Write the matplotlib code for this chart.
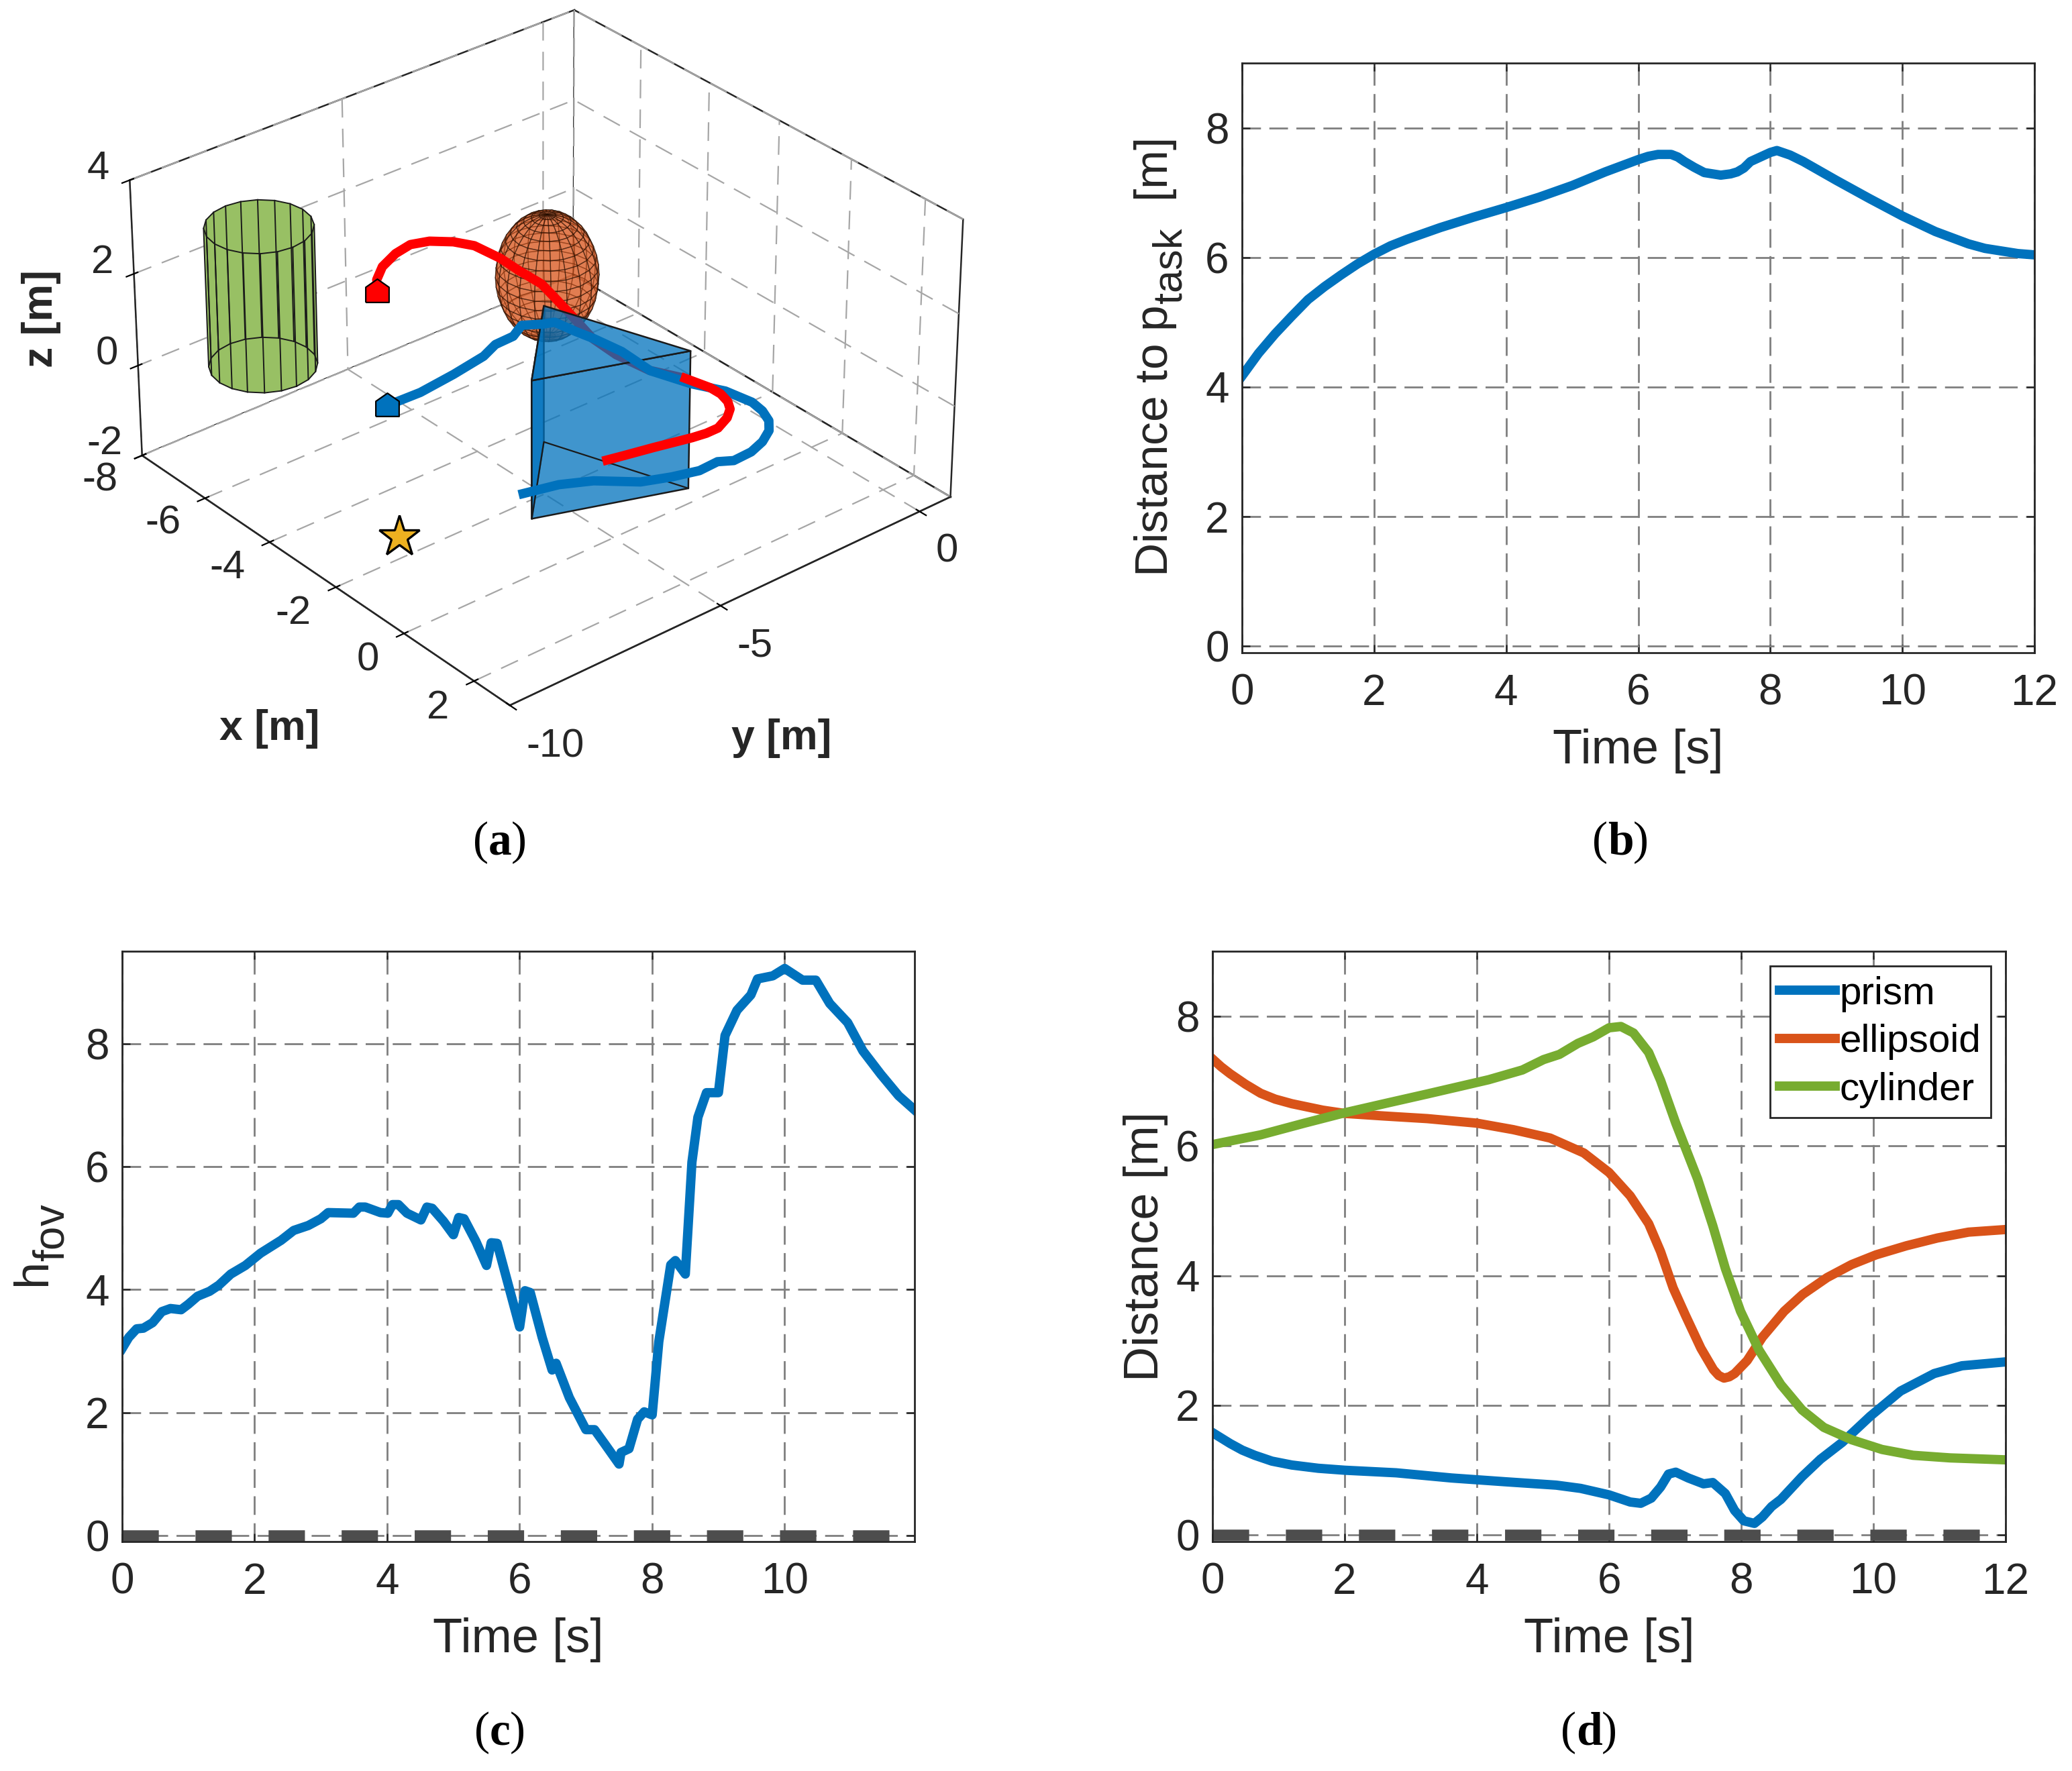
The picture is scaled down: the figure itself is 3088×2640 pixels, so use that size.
import matplotlib
matplotlib.use("Agg")
import matplotlib.pyplot as plt
import matplotlib._mathtext as mathtext_core
import numpy as np
from mpl_toolkits.mplot3d.art3d import Poly3DCollection

plt.rcParams["font.family"] = ["Liberation Sans", "DejaVu Sans"]
plt.rcParams["mathtext.fontset"] = "custom"
plt.rcParams["mathtext.rm"] = "Liberation Sans"
plt.rcParams["axes.unicode_minus"] = False
plt.rcParams["lines.scale_dashes"] = False
# subscripts in the figure are larger and sit lower than the mathtext default
mathtext_core.SHRINK_FACTOR = 0.88
mathtext_core.FontConstantsBase.sub1 = 0.6

W, H = 3088, 2640
DARK = "#262626"
BLUE = "#0072BD"
ORANGE = "#D95319"
GREEN = "#77AC30"
GOLD = "#EDB120"
LW = 5

# (b) distance to task point
t_task = [0, 0.25, 0.5, 0.75, 1, 1.25, 1.5, 1.75, 2, 2.25, 2.5, 3, 3.5, 4, 4.5, 5, 5.5, 6, 6.15, 6.3, 6.5, 6.6, 6.7, 6.85,
          7, 7.25, 7.4, 7.5, 7.6, 7.7, 7.85, 8, 8.1, 8.3, 8.5, 9, 9.5, 10, 10.5, 11, 11.25, 11.5, 11.75, 12]
d_task = [4.17, 4.52, 4.82, 5.09, 5.35, 5.55, 5.73, 5.9, 6.05, 6.18, 6.28, 6.46, 6.62, 6.77, 6.93, 7.11, 7.32, 7.51,
          7.56, 7.59, 7.59, 7.55, 7.48, 7.39, 7.31, 7.27, 7.29, 7.32, 7.38, 7.48, 7.55, 7.62, 7.65, 7.58, 7.48, 7.19,
          6.91, 6.64, 6.40, 6.21, 6.14, 6.10, 6.06, 6.04]

# (c) h_fov
t_fov = [0, 0.1, 0.22, 0.32, 0.46, 0.6, 0.73, 0.89, 1.0, 1.14, 1.32, 1.46, 1.64, 1.86, 2.09, 2.4, 2.59, 2.81, 3.0,
         3.11, 3.49, 3.58, 3.67, 3.9, 4.01, 4.08, 4.17, 4.3, 4.51, 4.6, 4.68, 4.85, 5.0, 5.08, 5.16, 5.34, 5.5,
         5.57, 5.66, 5.8, 6.0, 6.08, 6.16, 6.34, 6.49, 6.55, 6.75, 7.0, 7.13, 7.29, 7.5, 7.53, 7.65, 7.78, 7.88,
         8.0, 8.1, 8.28, 8.35, 8.5, 8.6, 8.69, 8.82, 9.0, 9.1, 9.28, 9.49, 9.59, 9.82, 10.0, 10.27, 10.47, 10.68,
         10.95, 11.18, 11.45, 11.72, 11.96]
h_fov = [3.04, 3.22, 3.36, 3.37, 3.46, 3.64, 3.69, 3.67, 3.76, 3.89, 3.97, 4.07, 4.25, 4.39, 4.59, 4.80, 4.96, 5.04,
         5.15, 5.25, 5.24, 5.34, 5.34, 5.25, 5.24, 5.38, 5.38, 5.24, 5.13, 5.34, 5.32, 5.11, 4.89, 5.17, 5.15, 4.78,
         4.39, 4.76, 4.75, 4.19, 3.39, 3.98, 3.95, 3.22, 2.69, 2.80, 2.24, 1.72, 1.72, 1.48, 1.16, 1.35, 1.41, 1.89,
         2.01, 1.96, 3.15, 4.40, 4.47, 4.25, 6.07, 6.80, 7.20, 7.20, 8.13, 8.54, 8.79, 9.05, 9.10, 9.22, 9.03, 9.03,
         8.65, 8.34, 7.88, 7.50, 7.15, 6.92]

# (d) obstacle distances
t_prism = [0, 0.27, 0.45, 0.64, 0.9, 1.2, 1.6, 2, 2.78, 3.62, 4.46, 5.2, 5.57, 6, 6.32, 6.48, 6.64, 6.78, 6.9, 7.01,
           7.2, 7.43, 7.57, 7.76, 7.9, 8.04, 8.2, 8.32, 8.46, 8.6, 8.92, 9.2, 9.53, 9.95, 10.41, 10.92, 11.34, 12]
d_prism = [1.58, 1.41, 1.31, 1.23, 1.14, 1.08, 1.03, 1.0, 0.96, 0.88, 0.82, 0.77, 0.72, 0.62, 0.51, 0.49, 0.57, 0.74,
           0.94, 0.97, 0.88, 0.79, 0.81, 0.64, 0.38, 0.22, 0.18, 0.28, 0.44, 0.55, 0.9, 1.17, 1.43, 1.83, 2.22, 2.49,
           2.61, 2.67]
t_ell = [0, 0.13, 0.27, 0.5, 0.73, 0.95, 1.2, 1.67, 2, 2.6, 3.25, 4, 4.55, 5.11, 5.62, 6, 6.32, 6.6, 6.78, 6.97, 7.16,
         7.39, 7.58, 7.66, 7.74, 7.82, 7.9, 8.09, 8.32, 8.65, 8.93, 9.3, 9.67, 10.04, 10.5, 10.97, 11.44, 12]
d_ell = [7.34, 7.22, 7.11, 6.95, 6.81, 6.72, 6.65, 6.55, 6.5, 6.46, 6.42, 6.35, 6.25, 6.12, 5.89, 5.59, 5.23, 4.8, 4.37,
         3.81, 3.38, 2.88, 2.55, 2.46, 2.42, 2.44, 2.49, 2.69, 3.05, 3.45, 3.71, 3.97, 4.17, 4.32, 4.46, 4.58, 4.67,
         4.71]
t_cyl = [0, 0.73, 1.39, 2, 2.6, 3.25, 3.8, 4.18, 4.69, 5.01, 5.25, 5.53, 5.76, 6, 6.18, 6.37, 6.6, 6.78, 7.01, 7.34,
         7.57, 7.76, 7.99, 8.27, 8.6, 8.92, 9.25, 9.67, 10.13, 10.6, 11.16, 12]
d_cyl = [6.02, 6.17, 6.35, 6.51, 6.65, 6.8, 6.93, 7.02, 7.17, 7.33, 7.41, 7.58, 7.68, 7.82, 7.84, 7.74, 7.44, 7.01,
         6.35, 5.49, 4.77, 4.11, 3.45, 2.85, 2.32, 1.93, 1.66, 1.47, 1.32, 1.23, 1.19, 1.16]
t_safe = [0, 12]
d_safe = [0, 0]

# (a) trajectories, drawn on z = 2 (red) and z = 1 (blue)
red_x = [-4.90, -5.22, -5.45, -5.54, -5.41, -5.10, -4.73, -4.04, -3.46, -2.80, -2.25, -1.53, -0.67, 0.06, 0.87, 1.50]
red_y = [-6.66, -6.27, -5.77, -5.34, -4.98, -4.65, -4.44, -4.37, -4.40, -4.40, -4.54, -4.73, -4.97, -5.02, -4.92, -4.61]
red2_x = [1.50, 2.04, 2.32, 2.60, 2.82, 3.01, 3.17, 3.17, 3.12, 2.93, 2.80, 2.72]
red2_y = [-4.61, -4.48, -4.48, -4.56, -4.70, -4.94, -5.30, -5.58, -5.87, -6.62, -7.19, -7.52]
blue_x = [-2.52, -2.50, -2.61, -2.76, -2.95, -2.97, -3.18, -2.96, -2.87, -2.35, -1.93, -1.24, -0.37, 0.47, 1.07, 1.35,
          1.68, 2.03, 2.36, 2.62, 2.83, 2.96, 2.98, 2.82, 2.84, 2.68, 2.45, 1.88, 1.58, 1.40]
blue_y = [-8.12, -7.56, -6.68, -5.84, -5.40, -4.95, -4.57, -4.24, -4.02, -3.94, -3.85, -3.76, -3.81, -3.54, -3.23,
          -3.18, -3.12, -3.18, -3.32, -3.55, -3.90, -4.29, -4.73, -4.98, -5.43, -5.95, -6.49, -7.11, -7.67, -8.35]
red_z, blue_z = 2, 1
red_start = (-4.58, -6.91, 2)
blue_start = (-2.56, -8.30, 1)
task_point = (-2.60, -8.03, -2)

prism_x = [-1.03, 1.9, 0.86]
prism_y = [-5.83, -4.85, -7.7]
prism_z = [-0.06, 2.85]
cyl_center = (-6.5, -8.17)
cyl_radius = 1.03
cyl_z = [0, 3]
ell_center = (-4.86, -2.53, 0.58)
ell_radii = (1, 1, 1.35)


def px_rect(left, top, right, bottom):
    return [left / W, 1 - bottom / H, (right - left) / W, (bottom - top) / H]


def style2d(ax, xticks, ylim):
    ax.set_ylim(*ylim)
    ax.set_xticks(xticks)
    ax.set_yticks([0, 2, 4, 6, 8])
    ax.tick_params(direction="in", top=True, right=True, length=4.3, width=0.9, color=DARK,
                   labelcolor=DARK, labelsize=23)
    ax.tick_params(axis="x", pad=11)
    ax.tick_params(axis="y", pad=7)
    ax.grid(True, color="#7f7f7f", linewidth=1.0, linestyle=(0, (10, 4.5)))
    ax.set_axisbelow(True)
    for s in ax.spines.values():
        s.set_color(DARK)
        s.set_linewidth(1.0)


fig = plt.figure(figsize=(W / 200, H / 200), dpi=200)

# panel (a)
ax3 = fig.add_axes(px_rect(153, -116, 1433, 1164), projection="3d", computed_zorder=False)
ax3.set_proj_type("persp", focal_length=1.15)
ax3.view_init(elev=30.5, azim=-40)
ax3.set_box_aspect((11, 10.8, 6), zoom=1.0)
ax3.set_xlim(-8, 3)
ax3.set_ylim(-10, 0.8)
ax3.set_zlim(-2, 4)
ax3.set_xticks([-8, -6, -4, -2, 0, 2])
ax3.set_yticks([-10, -5, 0])
ax3.set_zticks([-2, 0, 2, 4])
ax3.tick_params(labelsize=21.5, labelcolor=DARK, pad=5)
ax3.tick_params(axis="y", pad=2)
ax3.tick_params(axis="z", pad=-2)
ax3.zaxis.set_ticks_position("lower")
plt.setp(ax3.get_xticklabels(), ha="right", va="center")
plt.setp(ax3.get_yticklabels(), ha="left")
plt.setp(ax3.get_zticklabels(), ha="right", va="baseline")
for axis in (ax3.xaxis, ax3.yaxis, ax3.zaxis):
    axis.set_pane_color((1, 1, 1, 1))
    axis.pane.set_edgecolor(DARK)
    axis.pane.set_linewidth(0.9)
    axis.line.set_color(DARK)
    axis.line.set_linewidth(0.9)
    axis._axinfo["grid"].update(color="#a6a6a6", linewidth=0.8, linestyle=(0, (10, 6)))
    axis._axinfo["tick"]["color"] = DARK

# cylinder: flat fill, then the mesh lines on top of it
th = np.linspace(0, 2 * np.pi, 21)
cx = cyl_center[0] + cyl_radius * np.cos(th)
cy = cyl_center[1] + cyl_radius * np.sin(th)
quads = []
for i in range(20):
    quads.append([(cx[i], cy[i], cyl_z[0]), (cx[i + 1], cy[i + 1], cyl_z[0]),
                  (cx[i + 1], cy[i + 1], cyl_z[1]), (cx[i], cy[i], cyl_z[1])])
cyl = Poly3DCollection(quads, facecolors="#98C064", edgecolors="none")
cyl.set_zorder(3)
ax3.add_collection3d(cyl)
for i in range(20):
    ax3.plot([cx[i], cx[i]], [cy[i], cy[i]], cyl_z, color="#1a1a1a", lw=0.7, zorder=4)
ax3.plot(cx, cy, [cyl_z[0]] * 21, color="#1a1a1a", lw=0.7, zorder=4)
ax3.plot(cx, cy, [cyl_z[1]] * 21, color="#1a1a1a", lw=0.7, zorder=4)

# ellipsoid
u = np.linspace(0, 2 * np.pi, 21)
v = np.linspace(0, np.pi, 21)
ex = ell_center[0] + ell_radii[0] * np.outer(np.cos(u), np.sin(v))
ey = ell_center[1] + ell_radii[1] * np.outer(np.sin(u), np.sin(v))
ez = ell_center[2] + ell_radii[2] * np.outer(np.ones_like(u), np.cos(v))
ax3.plot_surface(ex, ey, ez, color=ORANGE, alpha=0.5, shade=False, edgecolor="#1a0a00", linewidth=0.5, zorder=5)

ax3.plot(red_x, red_y, [red_z] * len(red_x), color="#ff0000", lw=LW, zorder=6, solid_capstyle="round")

# prism: front faces filled once, back edges only outlined
top = [(x, y, prism_z[1]) for x, y in zip(prism_x, prism_y)]
bot = [(x, y, prism_z[0]) for x, y in zip(prism_x, prism_y)]
front = [top, [bot[1], bot[2], top[2], top[1]], [bot[2], bot[0], top[0], top[2]]]
face = Poly3DCollection(front, facecolors=[(0, 0.447, 0.741, 0.75)], edgecolors="#1a1a1a", linewidths=0.9)
face.set_zorder(7)
ax3.add_collection3d(face)
ax3.plot([bot[2][0], bot[0][0], bot[1][0]], [bot[2][1], bot[0][1], bot[1][1]], [prism_z[0]] * 3,
         color="#1a1a1a", lw=0.8, zorder=8)

ax3.plot(blue_x, blue_y, [blue_z] * len(blue_x), color=BLUE, lw=LW, zorder=9)
ax3.plot(red2_x, red2_y, [red_z] * len(red2_x), color="#ff0000", lw=LW, zorder=10)

house = [(-1, -1), (1, -1), (1, 0.3), (0, 1), (-1, 0.3), (-1, -1)]
ax3.plot(*[[c] for c in red_start], marker=house, ms=12.5, mfc="#ff0000", mec="k", mew=0.8, zorder=11)
ax3.plot(*[[c] for c in blue_start], marker=house, ms=12.5, mfc=BLUE, mec="k", mew=0.8, zorder=11)
ax3.plot(*[[c] for c in task_point], marker="*", ms=23, mfc=GOLD, mec="k", mew=1.2, zorder=11)

fig.text(402 / W, 1 - 1086 / H, "x [m]", fontsize=22.5, fontweight="bold", color=DARK, ha="center", va="center")
fig.text(1165 / W, 1 - 1100 / H, "y [m]", fontsize=22.5, fontweight="bold", color=DARK, ha="center", va="center")
fig.text(62 / W, 1 - 475 / H, "z [m]", fontsize=22.5, fontweight="bold", color=DARK, ha="center", va="center",
         rotation=90)

# panel (b)
axb = fig.add_axes(px_rect(1851, 94, 3032, 973))
axb.plot(t_task, d_task, color=BLUE, lw=LW)
axb.set_xlim(0, 12)
style2d(axb, range(0, 13, 2), (-0.1, 9))
axb.set_xlabel("Time [s]", fontsize=26, color=DARK, labelpad=8)
axb.set_ylabel(r"Distance to p$_{\mathrm{task}}$  [m]", fontsize=25, color=DARK, labelpad=11)

# panel (c)
axc = fig.add_axes(px_rect(182, 1418, 1363, 2298))
axc.plot(t_fov, h_fov, color=BLUE, lw=LW)
axc.plot(t_safe, d_safe, color="#4d4d4d", lw=6, linestyle=(0, (19.5, 19.7)), dash_capstyle="butt")
axc.set_xlim(0, 11.96)
style2d(axc, range(0, 11, 2), (-0.1, 9.5))
axc.set_xlabel("Time [s]", fontsize=26, color=DARK, labelpad=8)
axc.set_ylabel(r"h$_{\mathrm{fov}}$", fontsize=26, color=DARK, labelpad=10)

# panel (d)
axd = fig.add_axes(px_rect(1807, 1418, 2989, 2298))
axd.plot(t_prism, d_prism, color=BLUE, lw=LW, label="prism")
axd.plot(t_ell, d_ell, color=ORANGE, lw=LW, label="ellipsoid")
axd.plot(t_cyl, d_cyl, color=GREEN, lw=LW, label="cylinder")
axd.plot(t_safe, d_safe, color="#4d4d4d", lw=6, linestyle=(0, (19.5, 19.7)), dash_capstyle="butt")
axd.set_xlim(0, 12)
style2d(axd, range(0, 13, 2), (-0.1, 9))
axd.set_xlabel("Time [s]", fontsize=26, color=DARK, labelpad=8)
axd.set_ylabel("Distance [m]", fontsize=26, color=DARK, labelpad=4)
leg = axd.legend(loc="upper right", bbox_to_anchor=((2967 - 1807) / 1182, 1 - (1440 - 1418) / 880), borderaxespad=0,
                 fontsize=21, fancybox=False, framealpha=1, edgecolor=DARK, labelspacing=0.3, borderpad=0.25,
                 handlelength=1.41, handletextpad=0.12)
leg.get_frame().set_linewidth(1.0)

# captions: light parentheses around a bold letter
for label, x, y, half in [("a", 745, 1249, 17), ("b", 2415, 1249, 19), ("c", 745, 2576, 15), ("d", 2368, 2576, 19)]:
    yy = 1 - y / H
    fig.text(x / W, yy, label, fontsize=25, family="Liberation Serif", fontweight="bold", color="k",
             ha="center", va="center_baseline")
    fig.text((x - half) / W, yy, "(", fontsize=25, family="Liberation Serif", color="k", ha="right",
             va="center_baseline")
    fig.text((x + half) / W, yy, ")", fontsize=25, family="Liberation Serif", color="k", ha="left",
             va="center_baseline")

fig.savefig("out.png", dpi=200)
